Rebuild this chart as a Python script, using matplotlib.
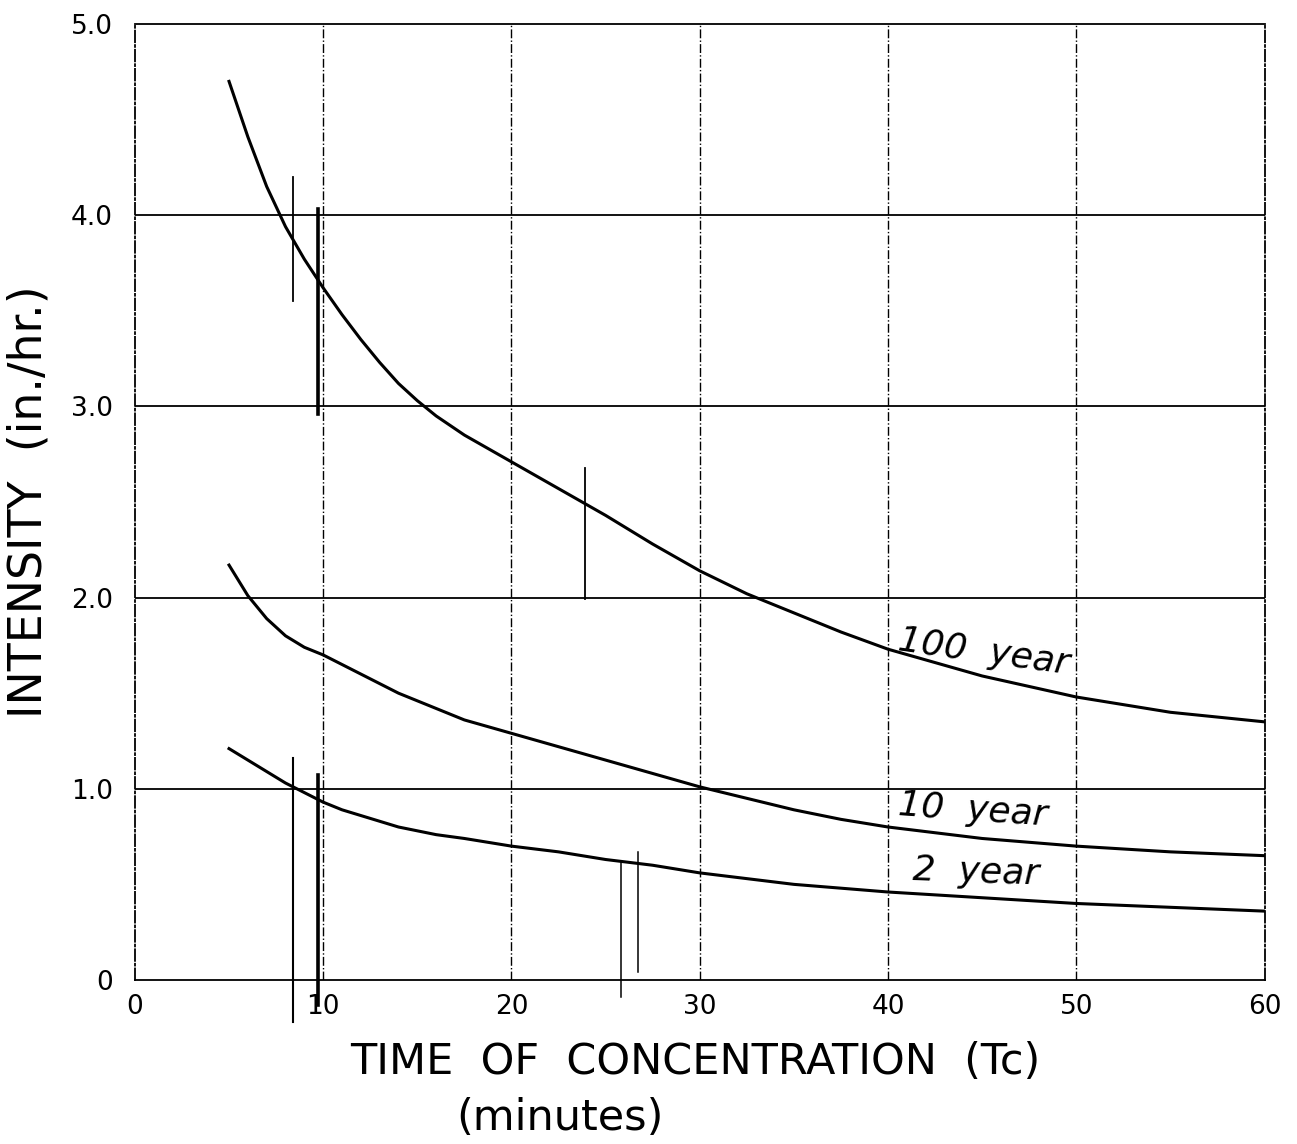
import matplotlib.pyplot as plt

# Rainfall intensity-duration curves
tc = [5, 6, 7, 8, 9, 10, 11, 12, 13, 14, 15, 16, 17.5, 20, 22.5, 25, 27.5, 30, 32.5, 35, 37.5, 40, 45, 50, 55, 60]
i100 = [4.70, 4.41, 4.15, 3.94, 3.77, 3.62, 3.48, 3.35, 3.23, 3.12, 3.03, 2.95, 2.85, 2.71, 2.57, 2.43, 2.28, 2.14, 2.02, 1.92, 1.82, 1.73, 1.59, 1.48, 1.40, 1.35]
i10 = [2.17, 2.01, 1.89, 1.80, 1.74, 1.70, 1.65, 1.60, 1.55, 1.50, 1.46, 1.42, 1.36, 1.29, 1.22, 1.15, 1.08, 1.01, 0.95, 0.89, 0.84, 0.80, 0.74, 0.70, 0.67, 0.65]
i2 = [1.21, 1.15, 1.09, 1.03, 0.98, 0.93, 0.89, 0.86, 0.83, 0.80, 0.78, 0.76, 0.74, 0.70, 0.67, 0.63, 0.60, 0.56, 0.53, 0.50, 0.48, 0.46, 0.43, 0.40, 0.38, 0.36]

# hand-drawn pencil marks on the original sheet
marks_x = [8.4, 9.7, 8.4, 9.7, 23.9, 25.8, 26.7]
marks_lo = [3.55, 2.96, -0.22, -0.13, 1.99, -0.09, 0.04]
marks_hi = [4.20, 4.03, 1.16, 1.07, 2.68, 0.62, 0.67]
marks_lw = [1.3, 2.6, 1.5, 2.6, 1.3, 1.1, 1.1]

xticks = [0, 10, 20, 30, 40, 50, 60]
yticks = [0, 1, 2, 3, 4, 5]
ylabels = ['0', '1.0', '2.0', '3.0', '4.0', '5.0']

plt.rcParams['font.family'] = ['DejaVu Sans']

fig = plt.figure(figsize=(12.97, 11.44), dpi=100)
ax = fig.add_axes([0.104, 0.1434, 0.871, 0.8356])

for v in [1, 2, 3, 4]:
    ax.axhline(v, color='black', lw=1.3)
for v in [10, 20, 30, 40, 50]:
    ax.axvline(v, color='black', lw=1.0, ls='-.')

ax.plot(tc, i100, color='black', lw=2.2)
ax.plot(tc, i10, color='black', lw=2.2)
ax.plot(tc, i2, color='black', lw=2.2)

for x, lo, hi, w in zip(marks_x, marks_lo, marks_hi, marks_lw):
    ax.plot([x, x], [lo, hi], color='black', lw=w, clip_on=False)

ax.set_xlim(0, 60)
ax.set_ylim(0, 5)
ax.set_xticks(xticks)
ax.set_yticks(yticks)
ax.set_yticklabels(ylabels)
ax.tick_params(length=0, labelsize=19)
ax.tick_params(axis='x', pad=10)
ax.tick_params(axis='y', pad=16)
ax.spines['left'].set_linestyle('-.')
ax.spines['right'].set_linestyle('-.')
for s in ax.spines.values():
    s.set_linewidth(1.3)

ax.text(40.4, 1.60, '100  year', fontsize=26, style='italic', rotation=-8, ha='left', va='baseline')
ax.text(40.5, 0.81, '10  year', fontsize=26, style='italic', rotation=-4, ha='left', va='baseline')
ax.text(41.3, 0.50, '2  year', fontsize=26, style='italic', rotation=-2, ha='left', va='baseline')

fig.text(0.536, 0.061, 'TIME  OF  CONCENTRATION  (Tc)', fontsize=31, ha='center', va='baseline')
fig.text(0.432, 0.012, '(minutes)', fontsize=31, ha='center', va='baseline')
ax.set_ylabel('INTENSITY  (in./hr.)', fontsize=33, labelpad=14)

plt.savefig('out.png', dpi=100)
